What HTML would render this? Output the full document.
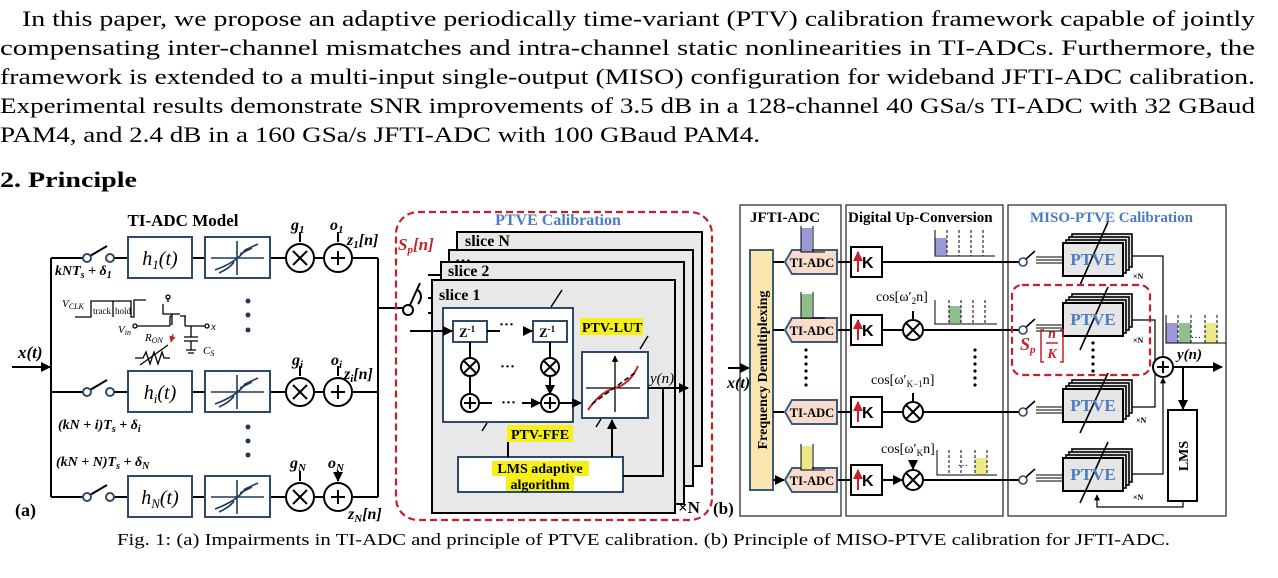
<!DOCTYPE html>
<html><head><meta charset="utf-8"><style>
html,body{margin:0;padding:0;background:#fff;}
svg{display:block;}
.t{font-family:"Liberation Serif",serif;}
</style></head><body>
<svg width="1278" height="578" viewBox="0 0 1278 578" xmlns="http://www.w3.org/2000/svg" class="t">
<defs>
<marker id="ar" viewBox="0 0 10 10" refX="9" refY="5" markerWidth="5" markerHeight="5" orient="auto"><path d="M0,0L10,5L0,10z" fill="#000"/></marker>
<marker id="arr" viewBox="0 0 10 10" refX="9" refY="5" markerWidth="5" markerHeight="5" orient="auto"><path d="M0,0L10,5L0,10z" fill="#c8202a"/></marker>
</defs>
<g font-size="22" fill="#000">
<text x="22" y="26" textLength="1233" lengthAdjust="spacingAndGlyphs">In this paper, we propose an adaptive periodically time-variant (PTV) calibration framework capable of jointly</text>
<text x="0" y="55" textLength="1255" lengthAdjust="spacingAndGlyphs">compensating inter-channel mismatches and intra-channel static nonlinearities in TI-ADCs. Furthermore, the</text>
<text x="0" y="84" textLength="1255" lengthAdjust="spacingAndGlyphs">framework is extended to a multi-input single-output (MISO) configuration for wideband JFTI-ADC calibration.</text>
<text x="0" y="113" textLength="1255" lengthAdjust="spacingAndGlyphs">Experimental results demonstrate SNR improvements of 3.5 dB in a 128-channel 40 GSa/s TI-ADC with 32 GBaud</text>
<text x="0" y="142" textLength="760" lengthAdjust="spacingAndGlyphs">PAM4, and 2.4 dB in a 160 GSa/s JFTI-ADC with 100 GBaud PAM4.</text>
<text x="0" y="187" font-weight="bold" font-size="22" textLength="137" lengthAdjust="spacingAndGlyphs">2. Principle</text>
</g>
<text x="117" y="545" font-size="17" textLength="1053" lengthAdjust="spacingAndGlyphs">Fig. 1: (a) Impairments in TI-ADC and principle of PTVE calibration. (b) Principle of MISO-PTVE calibration for JFTI-ADC.</text>

<!-- PANEL A -->
<g stroke="#000" stroke-width="2" fill="none">
<text x="183" y="226" font-size="17" font-weight="bold" fill="#000" stroke="none" text-anchor="middle">TI-ADC Model</text>
<line x1="51" y1="258" x2="51" y2="497"/>
<line x1="12" y1="367" x2="50" y2="367" marker-end="url(#ar)"/>
<line x1="378" y1="258" x2="378" y2="497"/>
<line x1="378" y1="308" x2="403" y2="308"/>
</g>
<text x="18" y="358" font-size="17" font-weight="bold" font-style="italic">x(t)</text>
<g stroke-width="2" fill="none">
<g stroke="#000">
<path d="M51,258H83M114,258H128M192,258H205M270,258H286M314,258H324M352,258H378"/>
<path d="M51,392H83M114,392H128M192,392H205M270,392H286M314,392H324M352,392H378"/>
<path d="M51,497H83M114,497H128M192,497H205M270,497H286M314,497H324M352,497H378"/>
<path d="M90,256L107,246M90,390L107,380M90,495L107,485"/>
<circle cx="87" cy="258" r="4" stroke="#2e4a6b"/><circle cx="110" cy="258" r="4" stroke="#2e4a6b"/>
<circle cx="87" cy="392" r="4" stroke="#2e4a6b"/><circle cx="110" cy="392" r="4" stroke="#2e4a6b"/>
<circle cx="87" cy="497" r="4" stroke="#2e4a6b"/><circle cx="110" cy="497" r="4" stroke="#2e4a6b"/>
<circle cx="300" cy="258" r="14"/><circle cx="338" cy="258" r="14"/>
<circle cx="300" cy="392" r="14"/><circle cx="338" cy="392" r="14"/>
<circle cx="300" cy="497" r="14"/><circle cx="338" cy="497" r="14"/>
<path d="M293,251l14,14M307,251l-14,14M331,258h14M338,251v14"/>
<path d="M293,385l14,14M307,385l-14,14M331,392h14M338,385v14"/>
<path d="M293,490l14,14M307,490l-14,14M331,497h14M338,490v14"/>
<path d="M300,232V242M338,232V242M300,366V376M338,366V376M300,471V481M338,471V481" marker-end="url(#ar)"/>
</g>
<g stroke="#2e4a6b">
<rect x="128" y="237" width="64" height="41"/><rect x="205" y="237" width="65" height="41"/>
<rect x="128" y="371" width="64" height="41"/><rect x="205" y="371" width="65" height="41"/>
<rect x="128" y="476" width="64" height="41"/><rect x="205" y="476" width="65" height="41"/>
</g>
<g stroke="#1f3b5c" stroke-width="1.6">
<path d="M211,258H264M237,241V275M215,270Q237,262 245,250L258,244M219,273Q230,268 234,262M240,254L252,248"/>
<path d="M211,392H264M237,375V409M215,404Q237,396 245,384L258,378M219,407Q230,402 234,396M240,388L252,382"/>
<path d="M211,497H264M237,480V514M215,509Q237,501 245,489L258,483M219,512Q230,507 234,501M240,493L252,487"/>
</g>
</g>
<g font-size="20" font-style="italic" text-anchor="middle">
<text x="160" y="265">h<tspan font-size="13" dy="4">1</tspan><tspan dy="-4">(t)</tspan></text>
<text x="160" y="399">h<tspan font-size="13" dy="4">i</tspan><tspan dy="-4">(t)</tspan></text>
<text x="160" y="504">h<tspan font-size="13" dy="4">N</tspan><tspan dy="-4">(t)</tspan></text>
</g>
<g font-size="16" font-weight="bold" font-style="italic">
<text x="291" y="230">g<tspan font-size="11" dy="3">1</tspan></text>
<text x="330" y="230">o<tspan font-size="11" dy="3">1</tspan></text>
<text x="347" y="245">z<tspan font-size="11" dy="3">1</tspan><tspan dy="-3">[n]</tspan></text>
<text x="292" y="365">g<tspan font-size="11" dy="3">i</tspan></text>
<text x="331" y="365">o<tspan font-size="11" dy="3">i</tspan></text>
<text x="344" y="379">z<tspan font-size="11" dy="3">i</tspan><tspan dy="-3">[n]</tspan></text>
<text x="290" y="468">g<tspan font-size="11" dy="3">N</tspan></text>
<text x="328" y="468">o<tspan font-size="11" dy="3">N</tspan></text>
<text x="348" y="519">z<tspan font-size="11" dy="3">N</tspan><tspan dy="-3">[n]</tspan></text>
<text x="55" y="275" font-size="14">kNT<tspan font-size="10" dy="3">s</tspan><tspan dy="-3"> + δ</tspan><tspan font-size="10" dy="3">1</tspan></text>
<text x="58" y="429" font-size="14">(kN + i)T<tspan font-size="10" dy="3">s</tspan><tspan dy="-3"> + δ</tspan><tspan font-size="10" dy="3">i</tspan></text>
<text x="56" y="466" font-size="14">(kN + N)T<tspan font-size="10" dy="3">s</tspan><tspan dy="-3"> + δ</tspan><tspan font-size="10" dy="3">N</tspan></text>
</g>
<text x="15" y="516" font-size="18" font-weight="bold">(a)</text>
<g fill="#1f3b5c"><circle cx="248" cy="301" r="2.5"/><circle cx="248" cy="315" r="2.5"/><circle cx="248" cy="330" r="2.5"/>
<circle cx="248" cy="427" r="2.5"/><circle cx="248" cy="441" r="2.5"/><circle cx="248" cy="455" r="2.5"/></g>
<g stroke="#000" stroke-width="1.3" fill="none">
<path d="M75,317H91V301H113V317H113V301H131V317H134V300H146"/>
<path d="M137,326H170M170,326V316M170,316H172M172,314V325M163,304V314H180M168,302V298M185,316V326M180,316H186M185,326H205"/>
<circle cx="168" cy="297" r="2"/><circle cx="207" cy="326" r="2"/><circle cx="135" cy="326" r="2"/>
<path d="M191,326V337M184,337H198M184,341H198M191,341V350M186,350H196M188,353H194"/>
<path d="M135,358H143L146,352L150,364L154,352L158,364L162,352L164,358H170M140,365L168,345"/>
</g>
<path d="M173,334L171,342" stroke="#c8202a" stroke-width="1.3" marker-end="url(#arr)"/>
<g font-size="11" font-style="italic"><text x="62" y="307">V<tspan font-size="8" dy="2">CLK</tspan></text>
<text x="118" y="333">V<tspan font-size="8" dy="2">in</tspan></text>
<text x="145" y="341">R<tspan font-size="8" dy="2">ON</tspan></text>
<text x="211" y="330">x</text><text x="203" y="354">C<tspan font-size="8" dy="2">S</tspan></text></g>
<text x="93" y="314" font-size="9">track</text><text x="115" y="314" font-size="9">hold</text>

<!-- PANEL PTVE -->
<rect x="396" y="212" width="316" height="308" rx="22" fill="none" stroke="#c8202a" stroke-width="2.2" stroke-dasharray="7,4"/>
<text x="558" y="225" font-size="16" font-weight="bold" fill="#4a7cc4" text-anchor="middle">PTVE Calibration</text>
<g stroke="#000" stroke-width="2" fill="#e8e8e8">
<rect x="457" y="232" width="245" height="234"/>
<rect x="449" y="250" width="244" height="236"/>
<rect x="441" y="262" width="243" height="242"/>
<rect x="432" y="280" width="243" height="233"/>
</g>
<g font-size="16" font-weight="bold"><text x="465" y="246">slice N</text><text x="455" y="262">…</text><text x="448" y="276">slice 2</text><text x="439" y="300">slice 1</text></g>
<text x="398" y="250" font-size="17" font-weight="bold" font-style="italic" fill="#c8202a">S<tspan font-size="11" dy="3">p</tspan><tspan dy="-3">[n]</tspan></text>
<g stroke="#000" stroke-width="2" fill="none">
<circle cx="408" cy="310" r="5"/>
<path d="M410,305L420,283M428,275H440M428,298H432M428,313H432M418,290q6,6 0,14"/>
<rect x="443" y="308" width="130" height="114" fill="#fff" stroke="#2e4a6b"/>
<rect x="453" y="321" width="34" height="21" fill="#fff" stroke="#2e4a6b"/>
<rect x="533" y="321" width="34" height="21" fill="#fff" stroke="#2e4a6b"/>
<line x1="410" y1="331" x2="452" y2="331" marker-end="url(#ar)"/>
<path d="M487,331H500M523,331H532" marker-end="url(#ar)"/>
<path d="M470,342V357M550,342V357M470,377V394M550,377V394" marker-end="url(#ar)"/>
<circle cx="470" cy="367" r="9"/><circle cx="550" cy="367" r="9"/>
<circle cx="470" cy="403" r="9"/><circle cx="550" cy="403" r="9"/>
<path d="M464,361l12,12M476,361l-12,12M544,361l12,12M556,361l-12,12M464,403h12M470,397v12M544,403h12M550,397v12"/>
<path d="M479,403H492M522,403H540" marker-end="url(#ar)"/>
<line x1="559" y1="403" x2="581" y2="403" marker-end="url(#ar)"/>
<rect x="582" y="352" width="66" height="66" fill="#fff" stroke="#2e4a6b"/>
<path d="M586,388H640M615,412V356" stroke-width="1.3" marker-end="url(#ar)"/>
<path d="M648,388H688" marker-end="url(#ar)"/>
<rect x="458" y="457" width="165" height="35" fill="#fff" stroke="#2e4a6b"/>
<path d="M508,457V425M612,457V420" marker-end="url(#ar)"/>
<path d="M623,476H663V388"/>
<path d="M551,307L562,290M640,349L648,336M482,431L487,423M596,427L601,419" stroke-width="1.5"/>
</g>
<path d="M588,410Q600,392 615,388Q630,384 638,366" stroke="#c8202a" stroke-width="2" fill="none"/>
<path d="M592,404L636,372" stroke="#000" stroke-width="1.5" stroke-dasharray="5,3"/>
<g font-size="13" font-weight="bold"><text x="459" y="337">Z<tspan font-size="9" dy="-5">-1</tspan></text><text x="539" y="337">Z<tspan font-size="9" dy="-5">-1</tspan></text></g>
<g font-size="15" font-weight="bold"><text x="499" y="329">···</text><text x="500" y="371">···</text><text x="501" y="407">···</text></g>
<rect x="580" y="318" width="63" height="17" fill="#f5ef1a"/>
<text x="582" y="332" font-size="14" font-weight="bold">PTV-LUT</text>
<rect x="507" y="425" width="66" height="17" fill="#f5ef1a"/>
<text x="511" y="439" font-size="14" font-weight="bold">PTV-FFE</text>
<rect x="492" y="461" width="97" height="15" fill="#f5ef1a"/>
<rect x="506" y="476" width="68" height="15" fill="#f5ef1a"/>
<text x="540" y="473" font-size="14" font-weight="bold" text-anchor="middle">LMS adaptive</text>
<text x="540" y="489" font-size="14" font-weight="bold" text-anchor="middle">algorithm</text>
<text x="650" y="383" font-size="15" font-style="italic">y(n)</text>
<text x="678" y="513" font-size="17" font-weight="bold">×N</text>
<text x="713" y="514" font-size="17" font-weight="bold">(b)</text>

<!-- PANEL B -->
<g stroke="#333" stroke-width="1.3" fill="none">
<rect x="740" y="205" width="101" height="311"/>
<rect x="846" y="205" width="157" height="311"/>
<rect x="1008" y="205" width="218" height="311"/>
</g>
<g font-size="15" font-weight="bold"><text x="750" y="222">JFTI-ADC</text><text x="848" y="222">Digital Up-Conversion</text>
<text x="1030" y="222" fill="#4a7cc4">MISO-PTVE Calibration</text></g>
<line x1="728" y1="368" x2="749" y2="368" stroke="#000" stroke-width="2" marker-end="url(#ar)"/>
<text x="727" y="388" font-size="16" font-weight="bold" font-style="italic">x(t)</text>
<rect x="750" y="250" width="23" height="240" fill="#fbe6b0" stroke="#3a5a80" stroke-width="2"/>
<text transform="translate(767,370) rotate(-90)" font-size="14" font-weight="bold" text-anchor="middle">Frequency Demultiplexing</text>
<g stroke="#000" stroke-width="2" fill="none">
<path d="M773,262H784M773,330H784M773,412H784M773,480H784" marker-end="url(#ar)"/>
<path d="M837,262H851M837,330H851M837,412H851M837,480H851"/>
<path d="M882,262H1019M882,330H902M923,330H1019M882,412H902M923,412H1019M882,480H902M923,480H1019" />
<path d="M882,330H902M882,412H902M882,480H902" marker-end="url(#ar)"/>
<path d="M913,311V319M913,393V401M913,461V469" marker-end="url(#ar)"/>
<circle cx="913" cy="330" r="10"/><circle cx="913" cy="412" r="10"/><circle cx="913" cy="480" r="10"/>
<path d="M906,323l14,14M920,323l-14,14M906,405l14,14M920,405l-14,14M906,473l14,14M920,473l-14,14"/>
<rect x="851" y="247" width="31" height="30"/><rect x="851" y="315" width="31" height="30"/>
<rect x="851" y="397" width="31" height="30"/><rect x="851" y="465" width="31" height="30"/>
</g>
<g fill="#f9dccb" stroke="#3a5a80" stroke-width="2">
<path d="M792,250H837V274H792L785,262Z"/><path d="M792,318H837V342H792L785,330Z"/>
<path d="M792,400H837V424H792L785,412Z"/><path d="M792,468H837V492H792L785,480Z"/>
</g>
<g font-size="12.5" font-weight="bold" text-anchor="middle"><text x="812" y="267">TI-ADC</text><text x="812" y="335">TI-ADC</text><text x="812" y="417">TI-ADC</text><text x="812" y="485">TI-ADC</text></g>
<g font-size="16" font-weight="bold" font-family="Liberation Sans,sans-serif"><text x="862" y="268">K</text><text x="862" y="336">K</text><text x="862" y="418">K</text><text x="862" y="486">K</text></g>
<g stroke="#c8202a" stroke-width="2" marker-end="url(#arr)"><line x1="858" y1="272" x2="858" y2="252"/><line x1="858" y1="340" x2="858" y2="320"/><line x1="858" y1="422" x2="858" y2="402"/><line x1="858" y1="490" x2="858" y2="470"/></g>
<g font-size="14"><text x="876" y="301">cos[ω′<tspan font-size="9" dy="3">2</tspan><tspan dy="-3">n]</tspan></text>
<text x="871" y="384">cos[ω′<tspan font-size="9" dy="3">K−1</tspan><tspan dy="-3">n]</tspan></text>
<text x="881" y="453">cos[ω′<tspan font-size="9" dy="3">K</tspan><tspan dy="-3">n]</tspan></text></g>
<g fill="#000"><circle cx="806" cy="350" r="1.6"/><circle cx="806" cy="357" r="1.6"/><circle cx="806" cy="364" r="1.6"/><circle cx="806" cy="371" r="1.6"/><circle cx="806" cy="378" r="1.6"/><circle cx="806" cy="385" r="1.6"/>
<circle cx="975" cy="350" r="1.6"/><circle cx="975" cy="357" r="1.6"/><circle cx="975" cy="364" r="1.6"/><circle cx="975" cy="371" r="1.6"/><circle cx="975" cy="378" r="1.6"/><circle cx="975" cy="385" r="1.6"/>
<circle cx="1093" cy="343" r="1.6"/><circle cx="1093" cy="350" r="1.6"/><circle cx="1093" cy="357" r="1.6"/><circle cx="1093" cy="364" r="1.6"/><circle cx="1093" cy="371" r="1.6"/></g>
<g stroke-width="1">
<rect x="801" y="228" width="11" height="24" fill="#9b98d8"/><rect x="801" y="294" width="11" height="24" fill="#8fbf8f"/><rect x="801" y="446" width="11" height="24" fill="#ece88a"/>
<rect x="935" y="238" width="12" height="17" fill="#9b98d8"/><rect x="949" y="306" width="12" height="17" fill="#8fbf8f"/><rect x="975" y="458" width="12" height="17" fill="#ece88a"/>
<rect x="1166" y="323" width="12" height="20" fill="#9b98d8"/><rect x="1179" y="323" width="12" height="20" fill="#8fbf8f"/><rect x="1205" y="323" width="12" height="20" fill="#ece88a"/>
</g>
<g stroke="#000" stroke-width="1" fill="none">
<path d="M801,226V252H825M813,226V252M801,292V318H825M813,292V318M801,444V470H825M813,444V470"/>
<path d="M935,230V256H995M935,300V324H997M937,450V475H997"/>
<path d="M1166,315V343H1226"/>
</g>
<g stroke="#000" stroke-width="1" stroke-dasharray="3,2">
<path d="M947,230V256M959,230V256M971,230V256M983,230V256M949,300V324M961,300V324M973,300V324M985,300V324M949,450V475M961,450V475M975,450V475M987,450V475M1178,315V343M1191,315V343M1205,315V343M1217,315V343"/>
</g>
<text x="958" y="466" font-size="10">…</text><text x="1191" y="338" font-size="10">…</text>
<g stroke="#000" stroke-width="1.6">
<g fill="#e6e6e6">
<rect x="1072" y="234" width="60" height="33"/><rect x="1069" y="237" width="60" height="33"/><rect x="1066" y="240" width="60" height="33"/><rect x="1063" y="243" width="60" height="33" stroke-width="2"/>
<rect x="1072" y="294" width="60" height="33"/><rect x="1069" y="297" width="60" height="33"/><rect x="1066" y="300" width="60" height="33"/><rect x="1063" y="303" width="60" height="33" stroke-width="2"/>
<rect x="1072" y="380" width="60" height="33"/><rect x="1069" y="383" width="60" height="33"/><rect x="1066" y="386" width="60" height="33"/><rect x="1063" y="389" width="60" height="33" stroke-width="2"/>
<rect x="1072" y="449" width="60" height="33"/><rect x="1069" y="452" width="60" height="33"/><rect x="1066" y="455" width="60" height="33"/><rect x="1063" y="458" width="60" height="33" stroke-width="2"/>
</g>
<g fill="none">
<path d="M1080,285L1108,222M1080,350L1108,287M1080,433L1108,373M1080,503L1108,442"/>
<path d="M1036,257H1063M1036,260H1063M1036,263H1063M1036,325H1063M1036,328H1063M1036,331H1063M1036,407H1063M1036,410H1063M1036,413H1063M1036,475H1063M1036,478H1063M1036,481H1063" stroke-width="1"/>
<circle cx="1023" cy="262" r="4" stroke="#2e4a6b"/><circle cx="1023" cy="330" r="4" stroke="#2e4a6b"/><circle cx="1023" cy="412" r="4" stroke="#2e4a6b"/><circle cx="1023" cy="480" r="4" stroke="#2e4a6b"/>
<path d="M1026,259L1035,251M1026,327L1035,319M1026,409L1035,401M1026,477L1035,469"/>
<path d="M1132,256H1163V356M1132,320H1155V362M1132,407H1155V372M1132,474H1163V378" stroke-width="1.2" marker-end="url(#ar)"/>
<path d="M1173,367H1222" stroke-width="2" marker-end="url(#ar)"/>
<path d="M1183,367V409" stroke-width="2" marker-end="url(#ar)"/>
<path d="M1183,501V507H1097V495" stroke-width="1.2" marker-end="url(#ar)"/>
<circle cx="1163" cy="367" r="10" stroke-width="2" fill="#fff"/>
<path d="M1157,367h12M1163,361v12" stroke-width="2"/>
<rect x="1168" y="410" width="29" height="91" stroke-width="2"/>
</g>
</g>
<g font-size="17" font-weight="bold" fill="#4a7cc4" text-anchor="middle"><text x="1093" y="265">PTVE</text><text x="1093" y="325">PTVE</text><text x="1093" y="411">PTVE</text><text x="1093" y="480">PTVE</text></g>
<g font-size="8" font-weight="bold"><text x="1133" y="279">×N</text><text x="1133" y="343">×N</text><text x="1136" y="423">×N</text><text x="1133" y="500">×N</text></g>
<text transform="translate(1188,456) rotate(-90)" font-size="14" font-weight="bold" text-anchor="middle">LMS</text>
<text x="1177" y="359" font-size="15" font-weight="bold" font-style="italic">y(n)</text>
<rect x="1012" y="285" width="138" height="90" rx="10" fill="none" stroke="#c8202a" stroke-width="2.2" stroke-dasharray="7,4"/>
<g fill="#c8202a" font-weight="bold" font-style="italic"><text x="1020" y="350" font-size="18">S<tspan font-size="11" dy="3">p</tspan></text>
<text x="1052" y="338" font-size="14" text-anchor="middle">n</text><line x1="1046" y1="343" x2="1058" y2="343" stroke="#c8202a" stroke-width="1.5"/><text x="1052" y="358" font-size="14" text-anchor="middle">K</text>
<path d="M1044,330h-3v32h3M1060,330h3v32h-3" fill="none" stroke="#c8202a" stroke-width="1.5"/></g>
</svg>
</body></html>
